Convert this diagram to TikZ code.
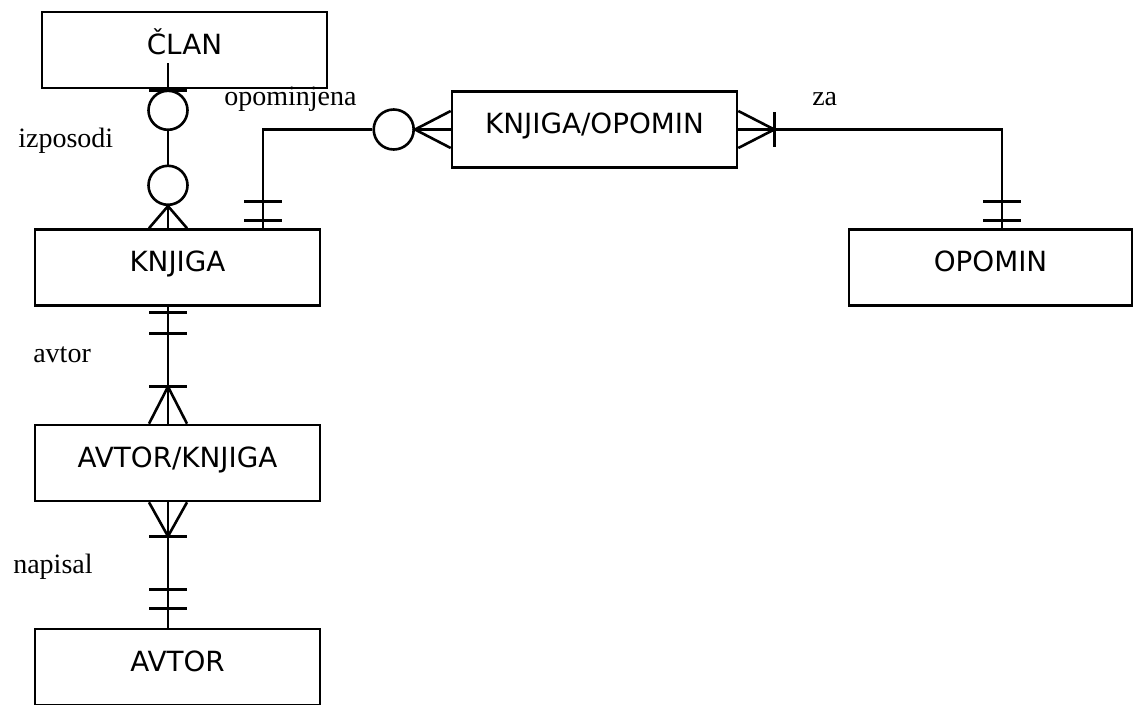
\documentclass[tikz,border=0pt]{standalone}
\usepackage{fontspec}
\setmainfont{Liberation Serif}
\newfontfamily\boxfont{DejaVu Sans}
\usetikzlibrary{calc}
\begin{document}
\begin{tikzpicture}[x=1pt,y=-1pt,line width=2.6pt,
  entity/.style={draw, rectangle, inner xsep=0pt, inner ysep=0pt,
    minimum width=285pt, text height=42pt, text depth=34pt,
    font=\boxfont\fontsize{27.8}{33}\selectfont},
  rel/.style={font=\fontsize{28}{34}\selectfont, anchor=base west, inner sep=0pt},
  ring/.style={draw, fill=white, circle, inner sep=0pt, minimum size=39pt}]
\useasboundingbox (0,0) rectangle (1134,704);

% entities
\node[entity] (clan)   at (184.5,50)    {ČLAN};
\node[entity] (knjiga) at (177.5,267.5) {KNJIGA};
\node[entity] (avknj)  at (177.5,463)   {AVTOR/KNJIGA};
\node[entity] (avtor)  at (177.5,667)   {AVTOR};
\node[entity] (knop)   at (594.5,129.5) {KNJIGA/OPOMIN};
\node[entity, minimum width=283pt] (opomin) at (990.5,267.5) {OPOMIN};

% ČLAN -- KNJIGA (izposodi)
\coordinate (c1) at ($(clan.south)+(-16.5,0)$);
\coordinate (k1) at ($(knjiga.north)+(-9.5,0)$);
\draw ($(c1)+(0,-26)$) -- (k1);
\draw ($(c1)+(-19,1)$) -- ($(c1)+(19,1)$);
\node[ring] (o1) at ($(c1)+(0,21)$) {};
\node[ring] (o2) at ($(c1)+(0,96)$) {};
\draw ($(k1)+(-19,0)$) -- (o2.south) -- ($(k1)+(19,0)$);

% KNJIGA -- AVTOR/KNJIGA (avtor)
\coordinate (k2) at ($(knjiga.south)+(-9.5,0)$);
\coordinate (a1) at ($(avknj.north)+(-9.5,0)$);
\draw (k2) -- (a1);
\draw ($(k2)+(-19,5.5)$) -- ($(k2)+(19,5.5)$);
\draw ($(k2)+(-19,26.5)$) -- ($(k2)+(19,26.5)$);
\draw ($(a1)+(-19,-37)$) -- ($(a1)+(19,-37)$);
\draw ($(a1)+(-19,0)$) -- ($(a1)+(0,-37)$) -- ($(a1)+(19,0)$);

% AVTOR/KNJIGA -- AVTOR (napisal)
\coordinate (a2) at ($(avknj.south)+(-9.5,0)$);
\coordinate (v1) at ($(avtor.north)+(-9.5,0)$);
\draw (a2) -- (v1);
\draw ($(a2)+(-19,0)$) -- ($(a2)+(0,34)$) -- ($(a2)+(19,0)$);
\draw ($(a2)+(-19,34)$) -- ($(a2)+(19,34)$);
\draw ($(v1)+(-19,-38)$) -- ($(v1)+(19,-38)$);
\draw ($(v1)+(-19,-19)$) -- ($(v1)+(19,-19)$);

% KNJIGA -- KNJIGA/OPOMIN (opominjena)
\coordinate (k3) at ($(knjiga.north)+(85.5,0)$);
\node[ring, minimum size=40pt] (o3) at ($(knop.west)+(-57,0)$) {};
\draw (k3) |- (o3.west);
\draw ($(k3)+(-19,-27)$) -- ($(k3)+(19,-27)$);
\draw ($(k3)+(-19,-8)$) -- ($(k3)+(19,-8)$);
\draw ($(knop.west)+(0,-18.5)$) -- (o3.east) -- ($(knop.west)+(0,18.5)$);
\draw (o3.east) -- (knop.west);

% KNJIGA/OPOMIN -- OPOMIN (za)
\coordinate (op) at ($(opomin.north)+(11.5,0)$);
\coordinate (t5) at ($(knop.east)+(36,0)$);
\draw (knop.east) -| (op);
\draw ($(knop.east)+(0,-18.5)$) -- (t5) -- ($(knop.east)+(0,18.5)$);
\draw ($(t5)+(0,-17.5)$) -- ($(t5)+(0,17.5)$);
\draw ($(op)+(-19,-27)$) -- ($(op)+(19,-27)$);
\draw ($(op)+(-19,-8)$) -- ($(op)+(19,-8)$);

% relationship names
\node[rel] (l1) at (17,147)  {izposodi};
\node[rel] (l2) at (223,105) {opominjena};
\node[rel] (l3) at (811,105) {za};
\node[rel] (l4) at (32,362)  {avtor};
\node[rel] (l5) at (12,573)  {napisal};
\end{tikzpicture}
\end{document}
